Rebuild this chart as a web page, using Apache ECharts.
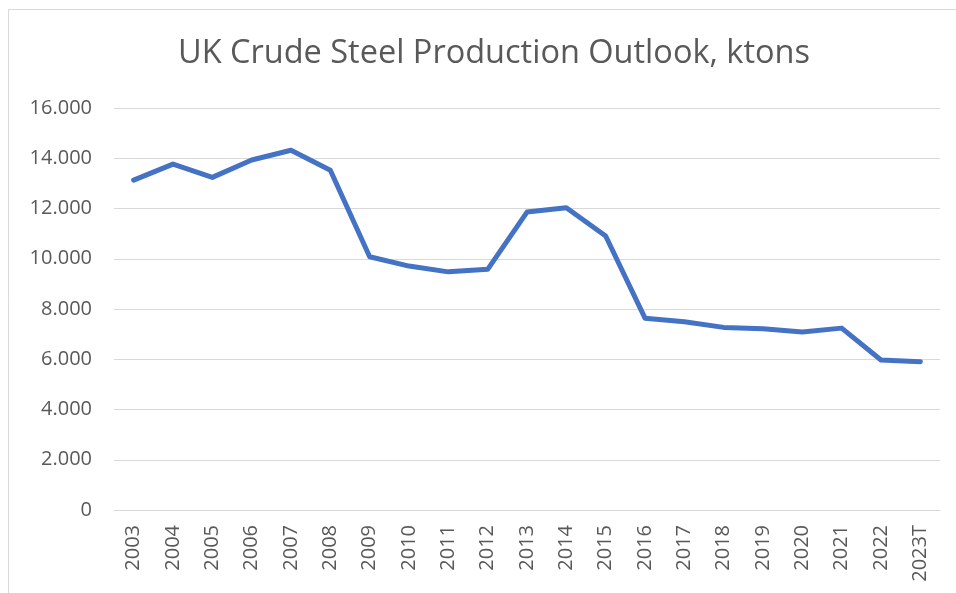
<!DOCTYPE html>
<html>
<head>
<meta charset="utf-8">
<script src="https://cdn.jsdelivr.net/npm/echarts@6/dist/echarts.min.js"></script>
<style>html,body{margin:0;padding:0;background:#fff}#c{width:956px;height:593px}</style>
</head>
<body>
<div id="c"></div>
<script>
const categories = ['2003','2004','2005','2006','2007','2008','2009','2010','2011','2012','2013','2014','2015','2016','2017','2018','2019','2020','2021','2022','2023T'];
const production = [13128,13766,13239,13931,14317,13521,10079,9708,9478,9579,11858,12033,10907,7635,7491,7268,7218,7085,7239,5970,5900];
const yTicks = {min:0, max:16000, interval:2000};
const titleText = 'UK Crude Steel Production Outlook, ktons';

function fmt(v){ return String(v).replace(/\B(?=(\d{3})+(?!\d))/g,'.'); }

const chart = echarts.init(document.getElementById('c'), null, {renderer:'canvas'});
chart.setOption({
  animation:false,
  backgroundColor:'#fff',
  graphic:[{type:'rect',shape:{x:8.5,y:9.5,width:1000,height:1000},style:{fill:'none',stroke:'#d9d9d9',lineWidth:1},silent:true}],
  title:{text:titleText,left:173,top:32,textStyle:{fontFamily:'Open Sans',fontWeight:'normal',fontSize:32.5,color:'#595959'}},
  grid:{left:114,right:16,top:108,bottom:83,containLabel:false},
  xAxis:{type:'category',data:categories,boundaryGap:true,
    axisLine:{show:true,lineStyle:{color:'#d9d9d9',width:1}},axisTick:{show:false},
    axisLabel:{rotate:90,color:'#595959',fontFamily:'Open Sans',fontSize:20,margin:15,interval:0}},
  yAxis:{type:'value',min:yTicks.min,max:yTicks.max,interval:yTicks.interval,
    axisLine:{show:false},axisTick:{show:false},
    splitLine:{lineStyle:{color:'#d9d9d9',width:1}},
    axisLabel:{color:'#595959',fontFamily:'Open Sans',fontSize:20,margin:22,formatter:fmt}},
  series:[{type:'line',data:production,showSymbol:false,symbol:'none',
    lineStyle:{color:'#4472C4',width:5,cap:'round',join:'round'}}]
});
</script>
</body>
</html>
